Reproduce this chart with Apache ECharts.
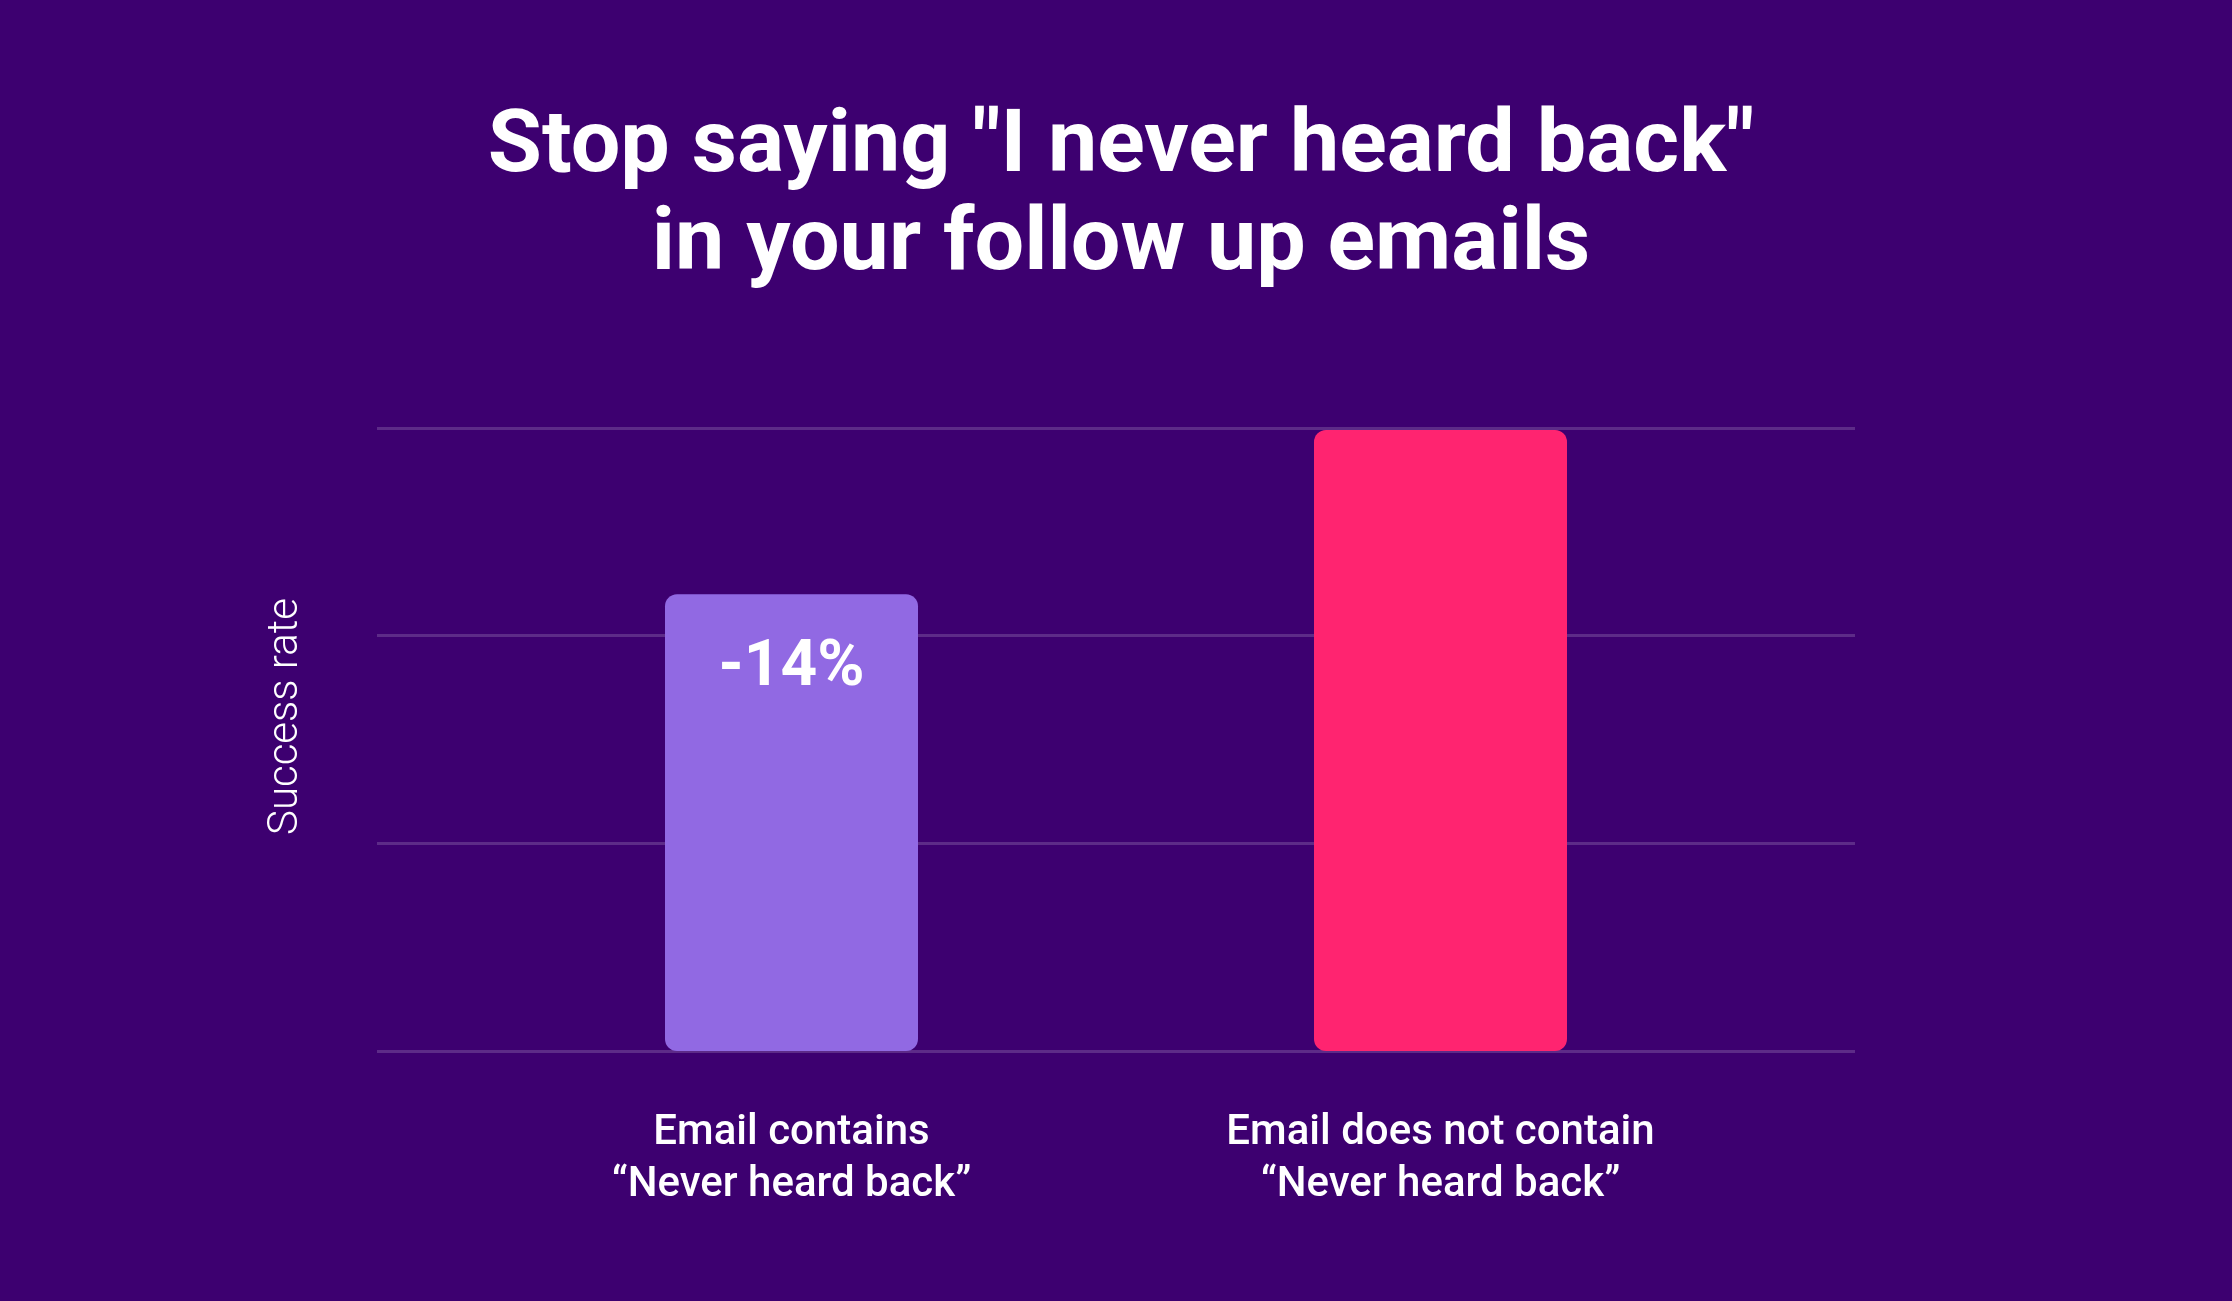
<!DOCTYPE html>
<html>
<head>
<meta charset="utf-8">
<script src="https://cdn.jsdelivr.net/npm/echarts@6/dist/echarts.min.js"></script>
<style>
html,body{margin:0;padding:0;background:#3d0070;}
#chart{width:2232px;height:1301px;}
</style>
</head>
<body>
<div id="chart"></div>
<script>
const titleText = 'Stop saying "I never heard back"\nin your follow up emails';
const categories = ['Email contains\n\u201cNever heard back\u201d', 'Email does not contain\n\u201cNever heard back\u201d'];
const successRate = [2.2, 2.99];
const barColors = ['#9169e3', '#ff2470'];
const barLabels = ['-14%', ''];
const yAxisName = 'Success rate';

const chart = echarts.init(document.getElementById('chart'));
chart.setOption({
  backgroundColor: '#3d0070',
  animation: false,
  title: {
    text: titleText,
    left: 1116,
    top: 95,
    textAlign: 'center',
    textStyle: {
      color: '#ffffff',
      fontFamily: 'Roboto',
      fontWeight: 'bold',
      fontSize: 88,
      lineHeight: 98
    }
  },
  grid: [
    {left: 377, right: 377, top: 428, bottom: 250},
    {left: 467, right: 467, top: 428, bottom: 250}
  ],
  xAxis: [
    {gridIndex: 0, type: 'category', data: categories, show: false},
    {
      gridIndex: 1, type: 'category', data: categories,
      axisLine: {show: false}, axisTick: {show: false},
      axisLabel: {
        color: '#ffffff', fontFamily: 'Roboto', fontWeight: 500, fontSize: 42, lineHeight: 52, margin: 56
      }
    }
  ],
  yAxis: [
    {
      gridIndex: 0, type: 'value', min: 0, max: 3, interval: 1,
      axisLine: {show: false}, axisTick: {show: false}, axisLabel: {show: false},
      splitLine: {lineStyle: {color: 'rgba(255,255,255,0.17)', width: 3}},
      name: yAxisName, nameLocation: 'middle', nameRotate: 90, nameGap: 70,
      nameTextStyle: {color: '#ffffff', fontFamily: 'Roboto', fontWeight: 300, fontSize: 42, padding: [0, 0, 0, 46]}
    },
    {
      gridIndex: 1, type: 'value', min: 0, max: 3, interval: 1, show: false,
      splitLine: {show: false}
    }
  ],
  series: [{
    type: 'bar',
    xAxisIndex: 1,
    yAxisIndex: 1,
    barWidth: 253,
    data: successRate.map((v, i) => ({
      value: v,
      itemStyle: {color: barColors[i], borderRadius: 12},
      label: {
        show: !!barLabels[i],
        formatter: barLabels[i],
        position: 'insideTop',
        distance: 43,
        color: '#ffffff',
        fontFamily: 'Roboto',
        fontWeight: 'bold',
        fontSize: 64
      }
    }))
  }]
});
</script>
</body>
</html>
